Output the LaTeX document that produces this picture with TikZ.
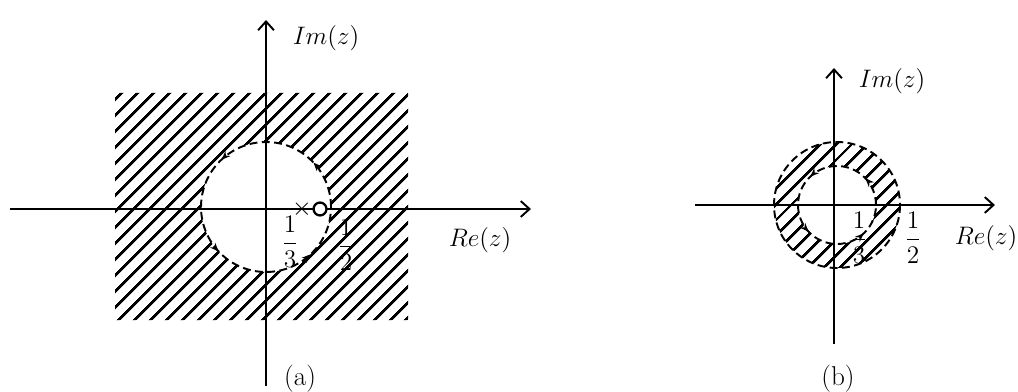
\documentclass[tikz,border=0pt]{standalone}
\usepackage{amsmath}
\usetikzlibrary{arrows.meta,patterns.meta,decorations.markings}
\begin{document}
\begin{tikzpicture}[
			x=0.2mm, y=-0.2mm,
			>={Straight Barb[length=5pt,width=9pt,line width=1.1pt]},
			every node/.style = {font=\fontsize{15.5}{18}\selectfont},
			axis/.style       = {->, line width=1.1pt},
			hatch/.style      = {pattern={Lines[angle=45,distance=6.4pt,line width=1.6pt]}},
			ring/.style       = {line width=1.1pt, dash pattern=on 4.5pt off 2.5pt},
			ringtips/.style   = {postaction={decorate}, decoration={markings,
					mark=at position 0.12 with {\arrow{Stealth[length=5pt,width=4pt]}},
					mark=at position 0.37 with {\arrow{Stealth[length=5pt,width=4pt]}},
					mark=at position 0.62 with {\arrow{Stealth[length=5pt,width=4pt]}},
					mark=at position 0.87 with {\arrow{Stealth[length=5pt,width=4pt]}}}}
			]
			\useasboundingbox (0,0) rectangle (1018,392);
			
			%--- (a): outside of the circle ---
			\coordinate (aO) at (266,207);
			\coordinate (aW) at (10,209);
			\coordinate (aE) at (531,209);
			\coordinate (aS) at (266,386);
			\coordinate (aN) at (266,20);
			
			\fill[hatch, even odd rule] (115,93) rectangle (408,320) (aO) circle[radius=65];
			\draw[ring, ringtips] (aO) ++(65,0) arc[start angle=0, end angle=-360, radius=65];
			
			\draw[axis] (aW) -- (aE);
			\draw[axis] (aS) -- (aN);
			
			\node (aPole) at (302,209) {$\times$};
			\node[circle, draw, line width=1.3pt, fill=white, inner sep=2.6pt] (aZero) at (320,209) {};
			
			\node (aIm)    at (326,38)  {$Im(z)$};
			\node (aRe)    at (480,240) {$Re(z)$};
			\node (aThird) at (290,242) {$\dfrac{1}{3}$};
			\node (aHalf)  at (346,245) {$\dfrac{1}{2}$};
			\node (aCap)   at (300,379) {(a)};
			
			%--- (b): the ring between 1/3 and 1/2 ---
			\coordinate (bO) at (837,205);
			\coordinate (bW) at (695,205);
			\coordinate (bE) at (995,205);
			\coordinate (bS) at (834,344);
			\coordinate (bN) at (834,68);
			
			\fill[hatch, even odd rule] (bO) circle[radius=63] (bO) circle[radius=39];
			\draw[ring] (bO) circle[radius=63];
			\draw[ring, ringtips] (bO) ++(39,0) arc[start angle=0, end angle=-360, radius=39];
			
			\draw[axis] (bW) -- (bE);
			\draw[axis] (bS) -- (bN);
			
			\node (bIm)    at (892,81)  {$Im(z)$};
			\node (bRe)    at (986,238) {$Re(z)$};
			\node (bThird) at (859,238) {$\dfrac{1}{3}$};
			\node (bHalf)  at (913,238) {$\dfrac{1}{2}$};
			\node (bCap)   at (838,379) {(b)};
		\end{tikzpicture}
\end{document}
